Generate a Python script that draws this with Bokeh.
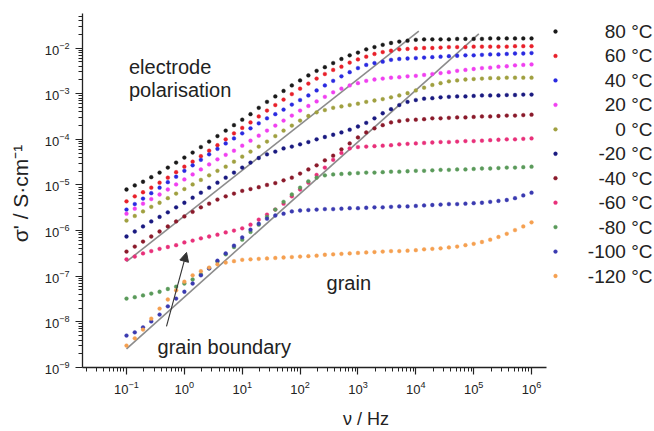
from bokeh.plotting import figure
from bokeh.models import Range1d, FixedTicker, Arrow, NormalHead, ColumnDataSource
from bokeh.core.properties import value
from bokeh.embed import file_html
from bokeh.resources import INLINE

# ---------------- data ----------------
freq_hz = [0.1, 0.139, 0.193, 0.268, 0.373, 0.518, 0.720,
           1.0, 1.39, 1.93, 2.68, 3.73, 5.18, 7.20,
           10.0, 13.9, 19.3, 26.8, 37.3, 51.8, 72.0,
           100.0, 139.0, 193.0, 268.0, 373.0, 518.0, 720.0,
           1.0e3, 1.39e3, 1.93e3, 2.68e3, 3.73e3, 5.18e3, 7.20e3,
           1.0e4, 1.39e4, 1.93e4, 2.68e4, 3.73e4, 5.18e4, 7.20e4,
           1.0e5, 1.39e5, 1.93e5, 2.68e5, 3.73e5, 5.18e5, 7.20e5,
           1.0e6]

# log10 of sigma' in S/cm
log_sigma_80 = [-5.10, -5.01, -4.93, -4.83, -4.73, -4.62, -4.51, -4.40, -4.29, -4.17,
                -4.05, -3.93, -3.81, -3.69, -3.57, -3.45, -3.31, -3.18, -3.06, -2.94,
                -2.82, -2.71, -2.60, -2.50, -2.42, -2.33, -2.24, -2.16, -2.10, -2.03,
                -1.98, -1.93, -1.89, -1.86, -1.84, -1.82, -1.81, -1.81, -1.81, -1.81,
                -1.80, -1.80, -1.80, -1.80, -1.79, -1.79, -1.79, -1.79, -1.79, -1.79]
log_sigma_60 = [-5.36, -5.25, -5.16, -5.06, -4.95, -4.84, -4.72, -4.60, -4.49, -4.37,
                -4.25, -4.13, -4.00, -3.87, -3.75, -3.63, -3.50, -3.37, -3.25, -3.13,
                -3.01, -2.89, -2.78, -2.67, -2.57, -2.48, -2.41, -2.32, -2.25, -2.19,
                -2.13, -2.09, -2.06, -2.03, -2.02, -2.01, -2.00, -2.00, -1.99, -1.98,
                -1.98, -1.98, -1.97, -1.97, -1.97, -1.97, -1.97, -1.96, -1.96, -1.96]
log_sigma_40 = [-5.54, -5.42, -5.30, -5.18, -5.06, -4.94, -4.82, -4.69, -4.57, -4.45,
                -4.33, -4.21, -4.09, -3.98, -3.87, -3.76, -3.65, -3.54, -3.45, -3.35,
                -3.24, -3.14, -3.04, -2.93, -2.82, -2.72, -2.62, -2.53, -2.44, -2.37,
                -2.33, -2.30, -2.26, -2.24, -2.23, -2.22, -2.21, -2.20, -2.19, -2.18,
                -2.17, -2.16, -2.16, -2.15, -2.14, -2.14, -2.13, -2.12, -2.12, -2.11]
log_sigma_20 = [-5.63, -5.52, -5.41, -5.31, -5.21, -5.10, -4.99, -4.88, -4.77, -4.66,
                -4.55, -4.44, -4.34, -4.25, -4.14, -4.03, -3.92, -3.81, -3.70, -3.59,
                -3.48, -3.37, -3.27, -3.17, -3.07, -2.97, -2.89, -2.82, -2.77, -2.72,
                -2.69, -2.67, -2.65, -2.64, -2.62, -2.61, -2.59, -2.57, -2.55, -2.53,
                -2.50, -2.48, -2.46, -2.44, -2.43, -2.41, -2.40, -2.38, -2.37, -2.36]
log_sigma_0 = [-5.78, -5.68, -5.58, -5.48, -5.39, -5.29, -5.19, -5.09, -4.99, -4.89,
               -4.79, -4.69, -4.60, -4.49, -4.38, -4.27, -4.16, -4.05, -3.93, -3.81,
               -3.70, -3.59, -3.49, -3.41, -3.36, -3.31, -3.28, -3.25, -3.22, -3.18,
               -3.15, -3.12, -3.08, -3.04, -2.99, -2.93, -2.87, -2.81, -2.77, -2.73,
               -2.71, -2.69, -2.68, -2.67, -2.66, -2.66, -2.65, -2.65, -2.65, -2.65]
log_sigma_m20 = [-6.13, -6.02, -5.91, -5.80, -5.70, -5.60, -5.49, -5.39, -5.28, -5.17,
                 -5.06, -4.95, -4.84, -4.73, -4.62, -4.51, -4.41, -4.33, -4.27, -4.20,
                 -4.16, -4.11, -4.06, -4.00, -3.95, -3.90, -3.85, -3.79, -3.72, -3.64,
                 -3.54, -3.43, -3.34, -3.25, -3.18, -3.14, -3.11, -3.10, -3.08, -3.07,
                 -3.06, -3.06, -3.05, -3.04, -3.04, -3.04, -3.03, -3.03, -3.02, -3.02]
log_sigma_m40 = [-6.46, -6.35, -6.24, -6.13, -6.02, -5.91, -5.80, -5.69, -5.59, -5.49,
                 -5.41, -5.32, -5.25, -5.19, -5.13, -5.09, -5.05, -5.00, -4.96, -4.90,
                 -4.84, -4.75, -4.66, -4.57, -4.46, -4.36, -4.22, -4.09, -3.96, -3.85,
                 -3.76, -3.69, -3.63, -3.60, -3.58, -3.57, -3.56, -3.54, -3.54, -3.53,
                 -3.52, -3.52, -3.51, -3.50, -3.50, -3.49, -3.48, -3.48, -3.47, -3.46]
log_sigma_m60 = [-6.63, -6.57, -6.50, -6.45, -6.40, -6.36, -6.32, -6.26, -6.22, -6.17,
                 -6.13, -6.09, -6.04, -6.00, -5.95, -5.87, -5.76, -5.65, -5.54, -5.41,
                 -5.25, -5.10, -4.95, -4.78, -4.62, -4.45, -4.30, -4.20, -4.17, -4.16,
                 -4.15, -4.14, -4.13, -4.11, -4.10, -4.09, -4.08, -4.07, -4.06, -4.06,
                 -4.05, -4.04, -4.04, -4.03, -4.02, -4.01, -4.00, -4.00, -3.99, -3.98]
log_sigma_m80 = [-7.49, -7.46, -7.42, -7.38, -7.34, -7.28, -7.23, -7.16, -7.07, -6.96,
                 -6.83, -6.68, -6.52, -6.36, -6.20, -6.03, -5.87, -5.70, -5.54, -5.37,
                 -5.21, -5.06, -4.92, -4.84, -4.79, -4.77, -4.76, -4.75, -4.74, -4.73,
                 -4.73, -4.72, -4.71, -4.71, -4.70, -4.69, -4.69, -4.68, -4.67, -4.67,
                 -4.66, -4.66, -4.65, -4.64, -4.64, -4.63, -4.62, -4.62, -4.61, -4.60]
log_sigma_m100 = [-8.30, -8.23, -8.12, -7.99, -7.84, -7.66, -7.49, -7.34, -7.16, -6.98,
                  -6.83, -6.66, -6.50, -6.33, -6.15, -5.98, -5.85, -5.74, -5.67, -5.63,
                  -5.58, -5.56, -5.55, -5.54, -5.53, -5.53, -5.52, -5.51, -5.51, -5.50,
                  -5.49, -5.49, -5.48, -5.47, -5.47, -5.46, -5.45, -5.44, -5.43, -5.42,
                  -5.42, -5.41, -5.40, -5.39, -5.37, -5.35, -5.33, -5.29, -5.23, -5.17]
log_sigma_m120 = [-8.52, -8.36, -8.17, -7.93, -7.71, -7.51, -7.31, -7.12, -6.98, -6.89,
                  -6.81, -6.74, -6.70, -6.67, -6.64, -6.63, -6.62, -6.61, -6.60, -6.59,
                  -6.58, -6.57, -6.56, -6.55, -6.53, -6.52, -6.51, -6.50, -6.49, -6.48,
                  -6.47, -6.46, -6.45, -6.45, -6.44, -6.43, -6.41, -6.40, -6.39, -6.37,
                  -6.35, -6.32, -6.29, -6.25, -6.20, -6.14, -6.07, -5.99, -5.91, -5.82]

series_labels = ["80 °C", "60 °C", "40 °C", "20 °C", "0 °C", "-20 °C",
                 "-40 °C", "-60 °C", "-80 °C", "-100 °C", "-120 °C"]
series_values = [log_sigma_80, log_sigma_60, log_sigma_40, log_sigma_20, log_sigma_0,
                 log_sigma_m20, log_sigma_m40, log_sigma_m60, log_sigma_m80,
                 log_sigma_m100, log_sigma_m120]
series_colors = ["#1a1a1a", "#e8202a", "#2a2ae0", "#f040f0", "#a0a040", "#1a1a80",
                 "#8a1a2a", "#e8307a", "#5a9a5a", "#3a3ab0", "#f5a050"]

# guide lines (slope ~1) and arrow
guide_upper_freq = [0.1, 1.127e4]
guide_upper_sigma = [2.09e-7, 2.34e-2]
guide_lower_freq = [0.1, 1.227e5]
guide_lower_sigma = [2.57e-9, 2.04e-2]
arrow_tail = (0.491, 7.94e-9)
arrow_tip = (1.09, 3.31e-7)

y_tick_exponents = list(range(-9, -1))
x_tick_exponents = list(range(-1, 7))

# ---------------- layout ----------------
FONT = "Liberation Sans"
W, H = 654, 431
LEFT, TOP, BOTTOM = 82, 13, 64
frame_h = H - TOP - BOTTOM
frame_w = W - LEFT
x_lo, x_hi = -1.7605, 8.125         # log10 range, frame spans to the right edge
y_lo, y_hi = -9.0, -1.244
x_axis_end = 6.259                   # axis line ends here

p = figure(width=W, height=H, x_axis_type="log", y_axis_type="log",
           x_range=Range1d(10 ** x_lo, 10 ** x_hi),
           y_range=Range1d(10 ** y_lo, 10 ** y_hi),
           output_backend="svg", toolbar_location=None,
           min_border_left=LEFT, min_border_right=0,
           min_border_top=TOP, min_border_bottom=BOTTOM)
p.outline_line_color = None
p.grid.visible = False
p.background_fill_color = "white"
p.border_fill_color = "white"

# ticks
p.yaxis.ticker = FixedTicker(
    ticks=[10.0 ** e for e in y_tick_exponents],
    minor_ticks=[m * 10.0 ** e for e in range(-9, -1) for m in range(2, 10)])
x_minor = [m * 10.0 ** e for e in range(-2, 7) for m in range(2, 10)]
x_minor = [t for t in x_minor if 10 ** x_lo <= t <= 10 ** x_axis_end]
p.xaxis.ticker = FixedTicker(ticks=[10.0 ** e for e in x_tick_exponents],
                             minor_ticks=x_minor)
p.xaxis.bounds = (10 ** x_lo, 10 ** x_axis_end)

for ax in (p.xaxis[0], p.yaxis[0]):
    ax.axis_line_color = "#222222"
    ax.axis_line_width = 1.3
    ax.major_tick_line_color = "#222222"
    ax.minor_tick_line_color = "#222222"
    ax.major_tick_line_width = 1.2
    ax.minor_tick_line_width = 1
    ax.major_tick_out = 7
    ax.major_tick_in = 0
    ax.minor_tick_out = 4
    ax.minor_tick_in = 0
    ax.major_label_text_font = FONT
    ax.major_label_text_font_size = "13px"
    ax.major_label_text_color = "#222222"
    ax.axis_label_text_font = FONT
    ax.axis_label_text_font_style = "normal"
    ax.axis_label_text_color = "#222222"

p.xaxis.axis_label = "ν  / Hz"
p.yaxis.axis_label = "σ'  / S·cm⁻¹"
p.xaxis.axis_label_text_font_size = "18px"
p.yaxis.axis_label_text_font_size = "21px"
p.xaxis.major_label_standoff = 6
p.yaxis.major_label_standoff = 6
p.xaxis.axis_label_standoff = 12
p.yaxis.axis_label_standoff = 10

# guide lines
p.line(guide_upper_freq, guide_upper_sigma, line_color="#8c8c8c", line_width=1.6)
p.line(guide_lower_freq, guide_lower_sigma, line_color="#8c8c8c", line_width=1.6)

# data
for lab, vals, col in zip(series_labels, series_values, series_colors):
    src = ColumnDataSource(dict(f=freq_hz, s=[10.0 ** v for v in vals]))
    p.scatter("f", "s", source=src, size=3.8, fill_color=col, line_color=col,
              line_width=0.4)

# arrow
p.add_layout(Arrow(end=NormalHead(size=9, fill_color="#333333", line_color="#333333"),
                   x_start=arrow_tail[0], y_start=arrow_tail[1],
                   x_end=arrow_tip[0], y_end=arrow_tip[1],
                   line_color="#333333", line_width=1.1))

# text annotations
ann_font = value(FONT)
p.text(x=[0.1104, 0.1104], y=[3.8e-3, 1.175e-3], text=["electrode", "polarisation"],
       text_font=ann_font, text_font_size="20px", text_color="#222222",
       text_align="left", text_baseline="alphabetic")
p.text(x=[0.3436], y=[2.75e-9], text=["grain boundary"],
       text_font=ann_font, text_font_size="20px", text_color="#222222",
       text_align="left", text_baseline="alphabetic")
p.text(x=[286.4], y=[7.24e-8], text=["grain"],
       text_font=ann_font, text_font_size="20px", text_color="#222222",
       text_align="left", text_baseline="alphabetic")

# legend (drawn in the right part of the frame)
def py_to_y(py):
    # screen row (px from top) -> data y
    frac = (py - TOP) / frame_h
    return 10 ** (y_hi - frac * (y_hi - y_lo))

def px_to_x(px):
    frac = (px - LEFT) / frame_w
    return 10 ** (x_lo + frac * (x_hi - x_lo))

leg_top, leg_step = 31.0, 24.45
leg_y = [py_to_y(leg_top + i * leg_step) for i in range(len(series_labels))]
p.scatter([px_to_x(555)] * len(leg_y), leg_y, size=3.8, fill_color=series_colors,
          line_color=series_colors, line_width=0.4)
p.text(x=[px_to_x(649)] * len(leg_y), y=leg_y, text=series_labels, x_offset=3,
       text_font=ann_font, text_font_size="19px", text_color="#222222",
       text_align="right", text_baseline="middle")

open("out.html", "w").write(file_html(p, INLINE))
